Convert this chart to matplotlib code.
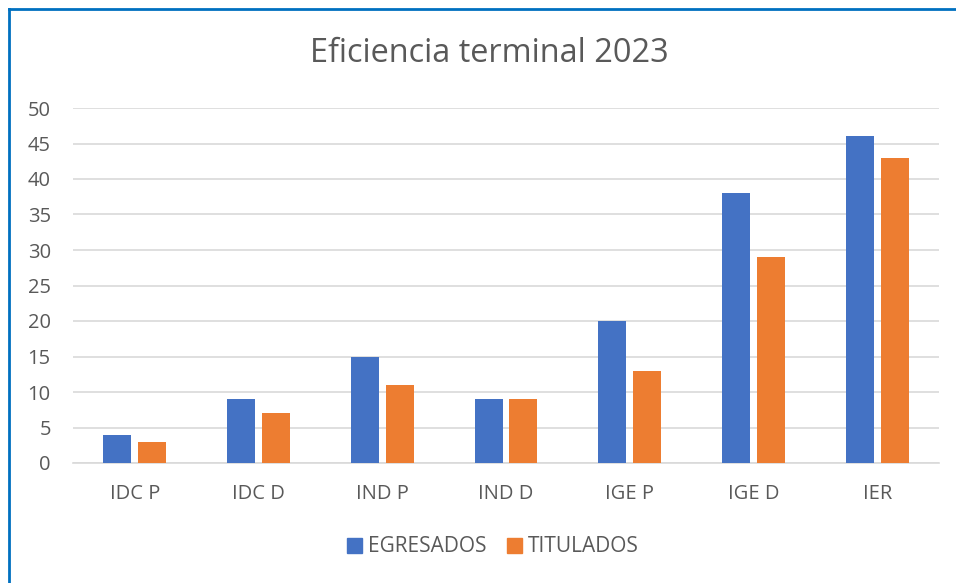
import matplotlib
matplotlib.use("Agg")
import matplotlib.pyplot as plt
from matplotlib.lines import Line2D
from matplotlib.patches import Patch
import numpy as np

plt.rcParams['font.family'] = ['Open Sans', 'DejaVu Sans']

categories = ["IDC P", "IDC D", "IND P", "IND D", "IGE P", "IGE D", "IER"]
egresados = [4, 9, 15, 9, 20, 38, 46]
titulados = [3, 7, 11, 9, 13, 29, 43]
series_names = ["EGRESADOS", "TITULADOS"]
colors = ["#4472C4", "#ED7D31"]
yticks = list(range(0, 51, 5))

fig = plt.figure(figsize=(9.56, 5.83), dpi=100)
ax = fig.add_axes([73/956, 120/583, 866/956, 355/583])

x = np.arange(len(categories))
w = 0.226
off = 0.141
ax.bar(x - off, egresados, width=w, color=colors[0], zorder=3)
ax.bar(x + off, titulados, width=w, color=colors[1], zorder=3)

ax.set_xlim(-0.5, len(categories) - 0.5)
ax.set_ylim(0, 50)
ax.set_yticks(yticks)
ax.set_xticks(x)
ax.set_xticklabels(categories)
ax.grid(axis='y', color='#d9d9d9', linewidth=1.2, zorder=0)
for s in ['top', 'right', 'left']:
    ax.spines[s].set_visible(False)
ax.spines['bottom'].set_color('#d9d9d9')
ax.spines['bottom'].set_linewidth(1.2)
ax.tick_params(axis='both', length=0, labelsize=14.5, colors='#595959')
ax.tick_params(axis='y', pad=16)
ax.tick_params(axis='x', pad=15)

fig.text(489/956, 1 - 54/583, "Eficiencia terminal 2023", ha='center', va='center',
         fontsize=23.4, color='#595959')

handles = [Patch(color=c) for c in colors]
fig.legend(handles, series_names, loc='center', bbox_to_anchor=(493/956, 1 - 547/583),
           ncol=2, frameon=False, fontsize=15, labelcolor='#595959',
           handlelength=0.7, handleheight=0.7, handletextpad=0.3, columnspacing=1.0)

# blue frame (left and top edges)
fig.add_artist(Line2D([8.5/956, 8.5/956], [0, 1 - 9/583], color='#0070C0', linewidth=2, transform=fig.transFigure))
fig.add_artist(Line2D([8.5/956, 1], [1 - 9/583, 1 - 9/583], color='#0070C0', linewidth=2, transform=fig.transFigure))

fig.savefig("out.png", dpi=100)
